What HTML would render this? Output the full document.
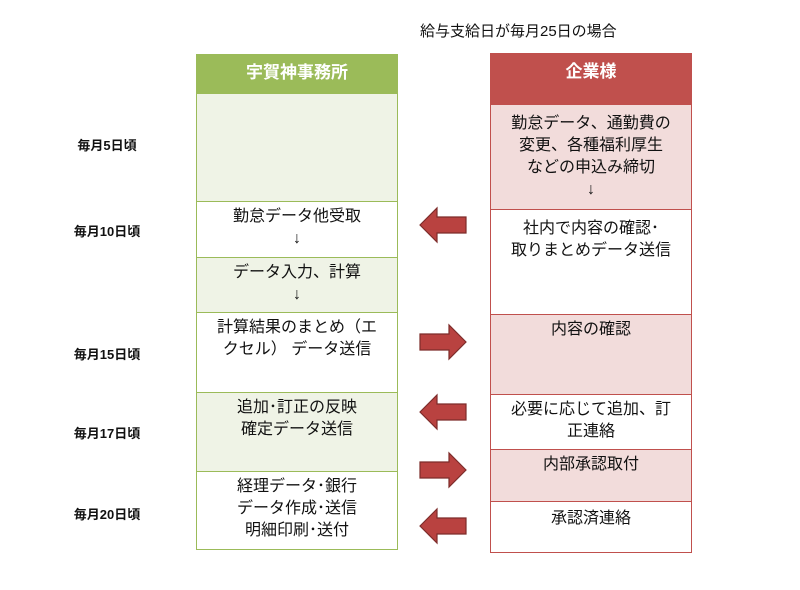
<!DOCTYPE html>
<html><head><meta charset="utf-8"><style>
body{margin:0;width:800px;height:590px;background:#fff;position:relative;font-family:"Liberation Sans","Noto Sans CJK JP",sans-serif;color:#111;overflow:hidden}
.a{position:absolute;box-sizing:border-box;text-align:center;font-size:16px;line-height:22px}
.g{border:1px solid #9bbb59;border-top:none}
.r{border:1px solid #c0504d;border-top:none}
.d{position:absolute;font-size:13px;left:62px;width:90px;text-align:center;font-weight:bold}
</style></head><body>
<div style="position:absolute;left:420px;top:20px;font-size:15px">給与支給日が毎月25日の場合</div>
<div class="a" style="left:196px;top:54px;width:202px;height:40px;background:#9bbb59;color:#fff;line-height:38px;font-size:17px;font-weight:bold">宇賀神事務所</div>
<div class="a g" style="left:196px;top:94px;width:202px;height:108px;background:#eff3e6"></div>
<div class="a g" style="left:196px;top:202px;width:202px;height:56px;background:#fff;padding-top:4px">勤怠データ他受取<br>↓</div>
<div class="a g" style="left:196px;top:258px;width:202px;height:55px;background:#eff3e6;padding-top:4px">データ入力、計算<br>↓</div>
<div class="a g" style="left:196px;top:313px;width:202px;height:80px;background:#fff;padding-top:4px">計算結果のまとめ（エ<br>クセル） データ送信</div>
<div class="a g" style="left:196px;top:393px;width:202px;height:79px;background:#eff3e6;padding-top:4px">追加･訂正の反映<br>確定データ送信</div>
<div class="a g" style="left:196px;top:472px;width:202px;height:78px;background:#fff;padding-top:4px">経理データ･銀行<br>データ作成･送信<br>明細印刷･送付</div>

<div class="a" style="left:490px;top:53px;width:202px;height:52px;background:#c0504d;color:#fff;line-height:38px;font-size:17px;font-weight:bold">企業様</div>
<div class="a r" style="left:490px;top:105px;width:202px;height:105px;background:#f2dcdb;padding-top:8px">勤怠データ、通勤費の<br>変更、各種福利厚生<br>などの申込み締切<br>↓</div>
<div class="a r" style="left:490px;top:210px;width:202px;height:105px;background:#fff;padding-top:8px">社内で内容の確認･<br>取りまとめデータ送信</div>
<div class="a r" style="left:490px;top:315px;width:202px;height:80px;background:#f2dcdb;padding-top:4px">内容の確認</div>
<div class="a r" style="left:490px;top:395px;width:202px;height:55px;background:#fff;padding-top:4px">必要に応じて追加、訂<br>正連絡</div>
<div class="a r" style="left:490px;top:450px;width:202px;height:52px;background:#f2dcdb;padding-top:4px">内部承認取付</div>
<div class="a r" style="left:490px;top:502px;width:202px;height:51px;background:#fff;padding-top:6px">承認済連絡</div>

<div class="d" style="top:135px">毎月5日頃</div>
<div class="d" style="top:221px">毎月10日頃</div>
<div class="d" style="top:344px">毎月15日頃</div>
<div class="d" style="top:423px">毎月17日頃</div>
<div class="d" style="top:504px">毎月20日頃</div>

<svg width="800" height="590" style="position:absolute;left:0;top:0">
<defs>
<path id="L" d="M0,0 L17,-17 L17,-8 L46,-8 L46,8 L17,8 L17,17 Z" fill="#b94240" stroke="#7d2c2a" stroke-width="1.2"/>
<path id="R" d="M46,0 L29,-17 L29,-8 L0,-8 L0,8 L29,8 L29,17 Z" fill="#b94240" stroke="#7d2c2a" stroke-width="1.2"/>
</defs>
<use href="#L" x="420" y="225"/>
<use href="#R" x="420" y="342"/>
<use href="#L" x="420" y="412"/>
<use href="#R" x="420" y="470"/>
<use href="#L" x="420" y="526"/>
</svg>
</body></html>
